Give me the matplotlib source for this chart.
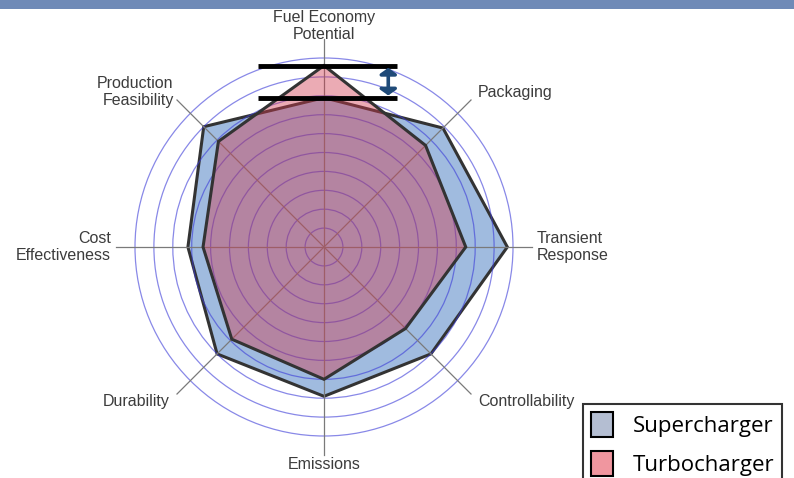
import numpy as np
import matplotlib.pyplot as plt
from matplotlib.patches import Polygon, Circle, Patch, Rectangle

# radar axes, clockwise from the top
categories = ["Fuel Economy\nPotential", "Packaging", "Transient\nResponse", "Controllability",
              "Emissions", "Durability", "Cost\nEffectiveness", "Production\nFeasibility"]
supercharger = [7.9, 8.9, 9.7, 8.0, 7.9, 8.0, 7.2, 9.0]
turbocharger = [9.6, 7.6, 7.5, 6.1, 7.0, 6.9, 6.4, 7.9]
series_names = ["Supercharger", "Turbocharger"]
n_rings = 10

W, H = 794, 478
cx, cy, unit = 324, 247, 18.9   # centre (px from top-left) and px per unit

fig = plt.figure(figsize=(W / 100, H / 100), dpi=100)
ax = fig.add_axes([0, 0, 1, 1])
ax.set_xlim(-cx / unit, (W - cx) / unit)
ax.set_ylim(-(H - cy) / unit, cy / unit)
ax.axis("off")

angles = np.arange(len(categories)) * 2 * np.pi / len(categories)


def xy(vals):
    vals = np.asarray(vals)
    return np.column_stack([vals * np.sin(angles), vals * np.cos(angles)])


# supercharger polygon (below the grid)
ax.add_patch(Polygon(xy(supercharger), closed=True, facecolor="#A0BBDF",
                     edgecolor="#333333", lw=2.2, zorder=1))

# rings and spokes
for r in range(1, n_rings + 1):
    ax.add_patch(Circle((0, 0), r, fill=False, edgecolor="#3A3AD8", alpha=0.6,
                        lw=0.9, zorder=2))
for a in angles:
    ax.plot([0, 11 * np.sin(a)], [0, 11 * np.cos(a)], color="#7a7a7a", lw=0.9, zorder=2)

# turbocharger polygon (semi transparent on top)
ax.add_patch(Polygon(xy(turbocharger), closed=True, facecolor=(0.82, 0.22, 0.30, 0.42),
                     edgecolor="#333333", lw=2.2, zorder=3))

# axis labels
lab = dict(fontsize=11.5, color="#3c3c3c", family="Liberation Sans", linespacing=1.15)
ax.text(0, 12.55, categories[0], ha="center", va="top", **lab)
ax.text(8.15, 8.2, categories[1], ha="left", va="center", **lab)
ax.text(11.27, 0, categories[2], ha="left", va="center", **lab)
ax.text(8.15, -8.2, categories[3], ha="left", va="center", **lab)
ax.text(0, -11.5, categories[4], ha="center", va="center", **lab)
ax.text(-8.15, -8.2, categories[5], ha="right", va="center", **lab)
ax.text(-11.27, 0, categories[6], ha="right", va="center", **lab)
ax.text(-7.95, 8.2, categories[7], ha="right", va="center", **lab)

# fuel economy gap marker
top, low = turbocharger[0], supercharger[0]
for v in (top, low):
    ax.plot([-3.5, 3.85], [v, v], color="black", lw=3.5, solid_capstyle="butt", zorder=5)
ax.annotate("", xy=(3.4, top - 0.12), xytext=(3.4, low + 0.12),
            arrowprops=dict(arrowstyle="<|-|>,head_width=0.5,head_length=0.35",
                            color="#1F4A78", lw=2.6, shrinkA=0, shrinkB=0), zorder=6)

# top band
fig.patches.append(Rectangle((0, 1 - 9 / H), 1, 9 / H, transform=fig.transFigure,
                             facecolor="#6F8AB7", edgecolor="none", zorder=10))

# legend
handles = [Patch(facecolor="#B4BED2", edgecolor="black", lw=1.5),
           Patch(facecolor="#F0969F", edgecolor="black", lw=1.5)]
leg = fig.legend(handles, series_names, loc="upper left",
                 bbox_to_anchor=(583 / W, 1 - 404 / H), borderaxespad=0,
                 prop={"family": "Open Sans", "size": 16}, frameon=True, fancybox=False,
                 handlelength=1.0, handleheight=1.35, handletextpad=0.9,
                 labelspacing=0.65, borderpad=0.35)
leg.get_frame().set_edgecolor("black")
leg.get_frame().set_linewidth(1.5)

fig.savefig("out.png", dpi=100)
